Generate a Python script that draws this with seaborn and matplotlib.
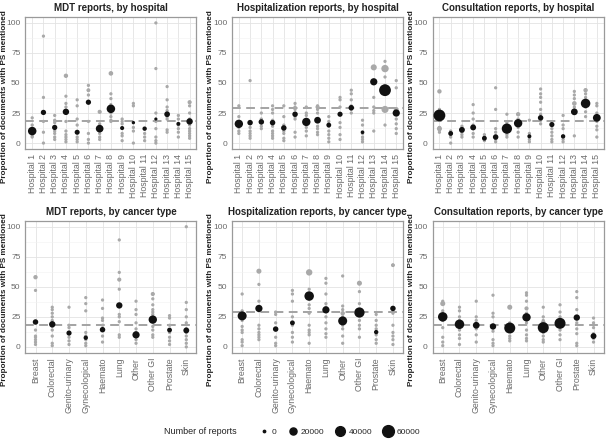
import pandas as pd
import numpy as np
import matplotlib.pyplot as plt
import seaborn as sns
from matplotlib.ticker import MultipleLocator

hospitals = ["Hospital %d" % i for i in range(1, 16)]
cancers = ["Breast", "Colorectal", "Genito-urinary", "Gynecological", "Haemato",
           "Lung", "Other", "Other GI", "Prostate", "Skin"]

# overall proportion (dashed line)
ref_mdt = 18
ref_hosp = 29
ref_cons = 18

# ---- MDT reports, by hospital
mdt_hosp_mean = [10, 25.5, 13, 26, 9, 34, 12, 28.5, 12.5, 17, 12, 20, 24, 16, 18]
mdt_hosp_n = [30000, 10000, 10000, 16000, 9000, 10000, 24000, 30000, 5000, 2500, 6000, 2000, 12000, 4500, 16000]
mdt_hosp_gray = [
    [21, 15, 12, 8, 6, 5],
    [89, 38, 18, 9, 0],
    [23, 19, 17, 10, 8, 5, 3],
    [56, 39, 33, 30, 18, 10, 7, 5, 3, 1],
    [36, 31, 20, 15, 5, 3, 1],
    [48, 44, 40, 18, 8, 3, 0],
    [26, 16, 14, 8, 5, 3],
    [58, 41, 37, 32, 25, 22, 19, 18],
    [20, 18, 16, 8, 6, 2],
    [33, 31, 13, 10, 0],
    [12, 8, 5, 2],
    [100, 62, 25, 18, 12, 5, 2, 0],
    [47, 36, 30, 27, 22, 20, 11, 9],
    [23, 20, 15, 12, 9, 5],
    [34, 31, 25, 20, 15, 12, 10, 8, 6, 4],
]
mdt_hosp_big = [("Hospital 4", 56, 6000), ("Hospital 8", 58, 7000), ("Hospital 15", 34, 5000),
                ("Hospital 6", 44, 4000), ("Hospital 7", 26, 5000)]

# ---- Hospitalization reports, by hospital
hosp_hosp_mean = [16, 17, 17.6, 17, 12.6, 24, 17.6, 19, 15, 24, 29.4, 9, 51, 44, 25]
hosp_hosp_n = [29000, 11000, 11000, 11000, 11000, 11000, 29000, 18000, 8000, 9500, 11000, 3500, 21000, 60000, 21000]
hosp_hosp_gray = [
    [31, 22, 17, 13, 10, 8],
    [52, 17, 13, 10, 8, 6, 4],
    [25, 20, 17, 14, 12],
    [31, 28, 25, 19, 14, 10, 8, 6, 4],
    [31, 22, 15, 10, 8, 4, 2],
    [33, 30, 28, 22, 20, 9, 5],
    [30, 25, 23, 19, 17, 13, 10, 6],
    [31, 28, 25, 18, 14, 12, 9, 7],
    [22, 18, 14, 10, 7, 4, 1],
    [38, 36, 30, 17, 13, 7, 3],
    [44, 41, 36, 31, 28, 25],
    [19, 15, 8, 5, 3, 1],
    [38, 30, 27, 25, 10],
    [68, 55, 48, 15],
    [52, 46, 28, 26, 20, 16, 12, 8],
]
hosp_hosp_big = [("Hospital 13", 63, 14000), ("Hospital 14", 62, 22000), ("Hospital 14", 28, 20000),
                 ("Hospital 15", 28, 8000), ("Hospital 8", 30, 5000)]

# ---- Consultation reports, by hospital
cons_hosp_mean = [23, 8, 11, 13, 4, 5, 12, 16.5, 5.6, 21, 15.4, 5.6, 26, 33, 21]
cons_hosp_n = [60000, 8000, 13000, 13000, 8000, 11000, 45000, 29000, 4600, 11000, 9500, 6000, 18000, 38000, 25000]
cons_hosp_gray = [
    [43, 28, 24, 13, 11, 9],
    [10, 7, 5, 0],
    [14, 12, 9, 7, 5],
    [32, 25, 20, 15, 8, 5],
    [7, 5, 3, 2],
    [46, 28, 12, 9, 6, 3, 1],
    [24, 17, 14, 9, 7, 5],
    [24, 20, 17, 13, 9, 5],
    [19, 8, 6, 3, 1],
    [45, 41, 38, 34, 28, 24, 19, 16],
    [12, 9, 6, 3, 1],
    [23, 15, 12, 5, 3, 1],
    [43, 40, 37, 33, 30, 6],
    [44, 41, 38, 35, 30, 26, 22],
    [33, 31, 25, 18, 14, 11, 5],
]
cons_hosp_big = [("Hospital 1", 43, 6000), ("Hospital 1", 12, 9000), ("Hospital 13", 33, 7000),
                 ("Hospital 14", 44, 6000), ("Hospital 8", 24, 6000)]

# ---- MDT reports, by cancer type
mdt_canc_mean = [20.7, 18.8, 11.5, 7.6, 14.3, 34.5, 10, 22.7, 14, 13.7]
mdt_canc_n = [11000, 15700, 9500, 6000, 11000, 15700, 21000, 29000, 8000, 13000]
mdt_canc_gray = [
    [47, 14, 9, 8, 6, 4, 2],
    [33, 31, 28, 25, 22, 17, 14, 9, 3, 1],
    [33, 18, 16, 12, 8, 5, 2],
    [41, 36, 30, 12, 9, 6, 3, 1],
    [39, 32, 24, 22, 18, 14, 9, 4],
    [89, 62, 56, 48, 27, 25, 21, 10, 8],
    [38, 31, 27, 20, 15, 12, 6, 3],
    [44, 40, 35, 31, 29, 27, 24, 21, 17, 14, 10, 8],
    [26, 24, 18, 12, 8, 5, 2],
    [100, 37, 31, 25, 20, 15, 12, 9, 6, 3, 0],
]
mdt_canc_big = [("Breast", 58, 6000), ("Lung", 56, 5000), ("Other GI", 44, 5000)]

# ---- Hospitalization reports, by cancer type
hosp_canc_mean = [25.8, 32, 14.8, 20, 42.3, 30.8, 21.6, 28.6, 12.3, 32]
hosp_canc_n = [34000, 21000, 11000, 8000, 38000, 21000, 34000, 45000, 6000, 11000]
hosp_canc_gray = [
    [44, 30, 27, 22, 17, 14, 12, 6, 4, 1],
    [52, 38, 30, 18, 15, 12, 10, 8, 6],
    [29, 27, 20, 8, 3, 1],
    [47, 44, 38, 25, 18, 12, 8, 4],
    [48, 35, 32, 28, 18, 14, 12, 10, 3],
    [57, 53, 44, 36, 33, 25, 20, 15, 11, 8],
    [59, 34, 31, 28, 25, 18, 15, 9, 3],
    [46, 36, 31, 26, 22, 18, 15, 8],
    [27, 22, 18, 15, 10, 6, 3],
    [68, 28, 18, 12, 9, 6, 2],
]
hosp_canc_big = [("Colorectal", 63, 9000), ("Haemato", 62, 16000), ("Other GI", 53, 9000),
                 ("Skin", 68, 4000), ("Other", 28, 6000)]

# ---- Consultation reports, by cancer type
cons_canc_mean = [25, 18.8, 18, 17, 15.7, 24.6, 16, 19.6, 24.4, 9]
cons_canc_n = [38000, 38000, 18000, 15700, 52000, 29000, 52000, 52000, 15700, 13000]
cons_canc_gray = [
    [38, 30, 22, 16, 8, 4, 1],
    [33, 30, 25, 22, 14, 10, 7, 2],
    [38, 25, 22, 15, 10, 4],
    [43, 28, 25, 18, 13, 6, 3, 1],
    [20, 15, 9, 7, 5],
    [45, 43, 38, 32, 28, 20, 14, 10, 7, 5],
    [33, 25, 22, 20, 18, 12, 9, 6, 4],
    [35, 29, 25, 22, 19, 14, 10, 6],
    [46, 41, 31, 20, 15, 11, 3, 1],
    [24, 20, 16, 11, 7, 4],
]
cons_canc_big = [("Breast", 36, 9000), ("Haemato", 33, 9000), ("Other", 20, 8000),
                 ("Lung", 32, 5000)]

legend_counts = [0, 20000, 40000, 60000]

SIZES = (3, 72)
NORM = (0, 60000)


def size_of(n):
    return SIZES[0] + (SIZES[1] - SIZES[0]) * n / NORM[1]


def draw_panel(ax, cats, gray, big, means, ns, ref, title):
    rows = []
    for c, vals in zip(cats, gray):
        for v in vals:
            rows.append((c, v, 2200))
    for c, v, n in big:
        rows.append((c, v, n))
    gdf = pd.DataFrame(rows, columns=["cat", "value", "n"])
    mdf = pd.DataFrame({"cat": cats, "value": means, "n": ns})

    ax.axhline(ref, color="#a3a3a3", lw=1.4, ls=(0, (4.5, 2.8)), zorder=1.5)
    sns.scatterplot(data=gdf, x="cat", y="value", size="n", sizes=SIZES, size_norm=NORM,
                    color="#a9a9a9", linewidth=0, legend=False, ax=ax, zorder=2)
    sns.scatterplot(data=mdf, x="cat", y="value", size="n", sizes=SIZES, size_norm=NORM,
                    color="#111111", linewidth=0, legend=False, ax=ax, zorder=3)

    ax.set_xlim(-0.6, len(cats) - 0.4)
    ax.set_ylim(-5, 105)
    ax.yaxis.set_major_locator(MultipleLocator(25))
    ax.yaxis.set_minor_locator(MultipleLocator(12.5))
    ax.grid(True, which="major", color="#e3e3e3", lw=0.6)
    ax.grid(True, which="minor", axis="y", color="#f1f1f1", lw=0.4)
    ax.set_axisbelow(True)
    ax.set_title(title, fontsize=7, fontweight="bold", color="#222222", pad=4)
    ax.set_xlabel("")
    ax.set_ylabel("Proportion of documents with PS mentioned", fontsize=5.9,
                  fontweight="bold", color="#222222")
    ax.yaxis.set_label_coords(-0.105, 0.40)
    ax.tick_params(axis="x", labelrotation=90, labelsize=6.3, labelcolor="#6a6a6a",
                   length=2, width=0.5, color="#777777", pad=1.5)
    ax.tick_params(axis="y", labelsize=6.0, labelcolor="#6a6a6a",
                   length=2, width=0.5, color="#777777", pad=1.5)
    ax.tick_params(which="minor", length=0)
    for s in ax.spines.values():
        s.set_color("#9a9a9a")
        s.set_linewidth(0.9)


sns.set_theme(style="whitegrid")
plt.rcParams['font.family'] = ['Liberation Sans', 'DejaVu Sans']

fig = plt.figure(figsize=(6.06, 4.45), dpi=100)
lefts = [0.042, 0.383, 0.714]
w = 0.282
h = 0.297
bottoms = [0.665, 0.207]

panels = [
    (hospitals, mdt_hosp_gray, mdt_hosp_big, mdt_hosp_mean, mdt_hosp_n, ref_mdt, "MDT reports, by hospital"),
    (hospitals, hosp_hosp_gray, hosp_hosp_big, hosp_hosp_mean, hosp_hosp_n, ref_hosp, "Hospitalization reports, by hospital"),
    (hospitals, cons_hosp_gray, cons_hosp_big, cons_hosp_mean, cons_hosp_n, ref_cons, "Consultation reports, by hospital"),
    (cancers, mdt_canc_gray, mdt_canc_big, mdt_canc_mean, mdt_canc_n, ref_mdt, "MDT reports, by cancer type"),
    (cancers, hosp_canc_gray, hosp_canc_big, hosp_canc_mean, hosp_canc_n, ref_hosp, "Hospitalization reports, by cancer type"),
    (cancers, cons_canc_gray, cons_canc_big, cons_canc_mean, cons_canc_n, ref_cons, "Consultation reports, by cancer type"),
]

for i, p in enumerate(panels):
    r, c = divmod(i, 3)
    ax = fig.add_axes([lefts[c], bottoms[r], w, h])
    draw_panel(ax, *p)

# size legend
handles = [plt.Line2D([], [], ls="", marker="o", color="#111111",
                      markersize=np.sqrt(size_of(n))) for n in legend_counts]
fig.legend(handles, [str(n) for n in legend_counts], loc="center", ncol=4,
           bbox_to_anchor=(0.56, 0.03), frameon=False, fontsize=6,
           handletextpad=0.4, columnspacing=1.3, handlelength=1.2)
fig.text(0.27, 0.03, "Number of reports", fontsize=6.5, color="#222222",
         ha="left", va="center")

fig.savefig("out.png", dpi=100)
